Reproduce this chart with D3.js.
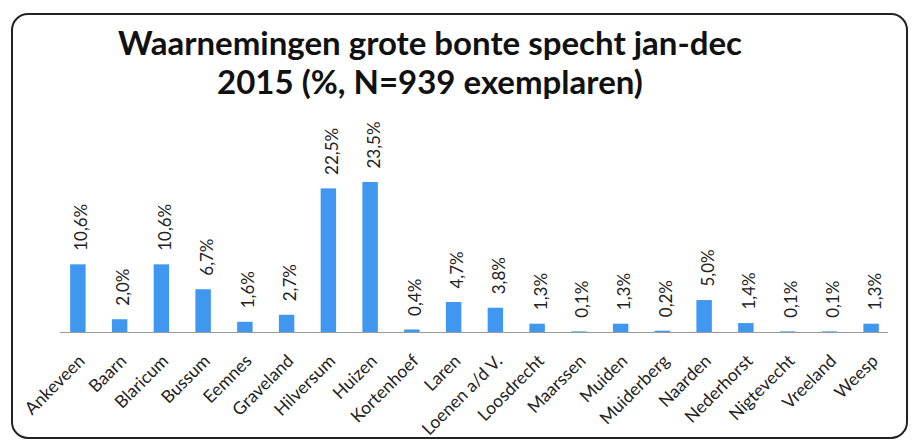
<!DOCTYPE html>
<html><head><meta charset="utf-8">
<script src="https://cdn.jsdelivr.net/npm/d3@7"></script>
<style>body{margin:0;background:#fff}svg{display:block}</style>
</head><body>
<svg id="c" width="916" height="443"></svg>
<script>
const categories = ["Ankeveen","Baarn","Blaricum","Bussum","Eemnes","Graveland","Hilversum","Huizen","Kortenhoef","Laren","Loenen a/d V.","Loosdrecht","Maarssen","Muiden","Muiderberg","Naarden","Nederhorst","Nigtevecht","Vreeland","Weesp"];
const values = [10.6,2.0,10.6,6.7,1.6,2.7,22.5,23.5,0.4,4.7,3.8,1.3,0.1,1.3,0.2,5.0,1.4,0.1,0.1,1.3];
const titleLines = ["Waarnemingen grote bonte specht jan-dec","2015 (%, N=939 exemplaren)"];

const svg = d3.select("#c");
const font = "Lato, 'Open Sans', sans-serif";

svg.append("rect").attr("x",12).attr("y",14).attr("width",895).attr("height",424)
  .attr("rx",16).attr("fill","#fff").attr("stroke","#222").attr("stroke-width",2);

svg.selectAll("text.title").data(titleLines).join("text").attr("class","title")
  .attr("x",430).attr("y",(d,i)=>55+i*39).attr("text-anchor","middle")
  .attr("font-family",font).attr("font-weight","bold").attr("font-size",33).attr("fill","#111")
  .text(d=>d);

const x = d3.scaleBand().domain(categories).range([57,892]).paddingInner(0.63).paddingOuter(0.315);
const y = d3.scaleLinear().domain([0,23.5]).range([332,182]);

svg.selectAll("rect.bar").data(values).join("rect").attr("class","bar")
  .attr("x",(d,i)=>x(categories[i])).attr("width",x.bandwidth())
  .attr("y",d=>y(d)).attr("height",d=>y(0)-y(d)).attr("fill","#3f97f0");

const axis = svg.append("g").attr("transform","translate(0,332)")
  .call(d3.axisBottom(x).tickSize(0).tickPadding(0));
axis.select(".domain").attr("stroke","#999").attr("stroke-width",1.2).attr("d","M60,0.5H888");
axis.selectAll(".tick text").attr("font-family",font).attr("font-size",17.5).attr("fill","#222")
  .attr("text-anchor","end").attr("dy",null).attr("y",0)
  .attr("transform","translate(8,30) rotate(-45)");

svg.selectAll("text.val").data(values).join("text").attr("class","val")
  .attr("transform",(d,i)=>`translate(${x(categories[i])+x.bandwidth()/2+9.5},${y(d)-13.5}) rotate(-90)`)
  .attr("font-family",font).attr("font-size",17).attr("fill","#222")
  .text(d=>d.toFixed(1).replace(".",",")+"%");
</script>
</body></html>
